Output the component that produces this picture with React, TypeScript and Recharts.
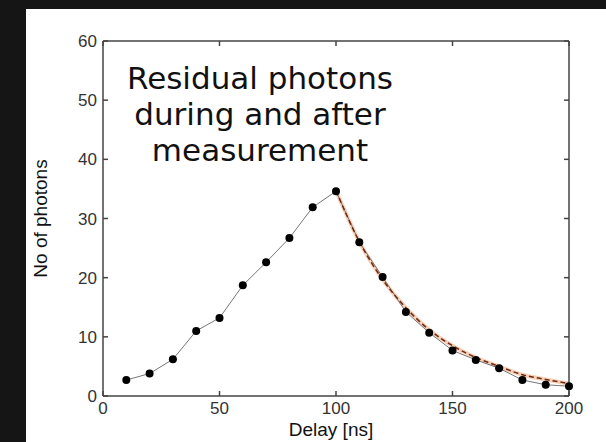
import { Line, LineChart, XAxis, YAxis } from "recharts";

const delays = [10, 20, 30, 40, 50, 60, 70, 80, 90, 100, 110, 120, 130, 140, 150, 160, 170, 180, 190, 200];
const photons = [2.7, 3.8, 6.2, 11.0, 13.2, 18.7, 22.6, 26.7, 31.9, 34.6, 26.0, 20.1, 14.2, 10.7, 7.7, 6.1, 4.7, 2.7, 1.9, 1.65];
const fitDelays = [100, 110, 120, 130, 140, 150, 160, 170, 180, 190, 200];
const fitPhotons = [34.7, 26.1, 19.7, 14.9, 11.2, 8.5, 6.5, 5.0, 3.6, 2.8, 2.1];
const xTicks = [0, 50, 100, 150, 200];
const yTicks = [0, 10, 20, 30, 40, 50, 60];
const titleLines = ["Residual photons", "during and after", "measurement"];

const data = delays.map((delay, i) => {
  const j = fitDelays.indexOf(delay);
  return { delay, photons: photons[i], fit: j >= 0 ? fitPhotons[j] : null };
});

const axisColor = "#444";
const tickFont = { fontFamily: "Liberation Sans, Arial, sans-serif", fontSize: 17, fill: "#333" };

function BottomTick(props: any) {
  const { x, y, payload } = props;
  return (
    <g>
      <line x1={x} y1={y} x2={x} y2={y - 5} stroke={axisColor} strokeWidth={1.5} />
      <text x={x} y={y + 18} textAnchor="middle" {...tickFont}>
        {payload.value}
      </text>
    </g>
  );
}

function LeftTick(props: any) {
  const { x, y, payload } = props;
  return (
    <g>
      <line x1={x} y1={y} x2={x + 5} y2={y} stroke={axisColor} strokeWidth={1.5} />
      <text x={x - 6} y={y + 6} textAnchor="end" {...tickFont}>
        {payload.value}
      </text>
    </g>
  );
}

function TopTick(props: any) {
  const { x, y } = props;
  return <line x1={x} y1={y} x2={x} y2={y + 5} stroke={axisColor} strokeWidth={1.5} />;
}

function RightTick(props: any) {
  const { x, y } = props;
  return <line x1={x} y1={y} x2={x - 5} y2={y} stroke={axisColor} strokeWidth={1.5} />;
}

export default function App() {
  return (
    <div style={{ position: "absolute", left: 0, top: 0, width: 606, height: 442, background: "#151515" }}>
      <div style={{ position: "absolute", left: 26, top: 9, width: 580, height: 433, background: "#fff" }}>
        <LineChart width={580} height={433} data={data} margin={{ top: 31, right: 36, left: 0, bottom: 0 }}>
          <XAxis
            dataKey="delay"
            type="number"
            domain={[0, 200]}
            ticks={xTicks}
            interval={0}
            height={46}
            tickSize={0}
            tickMargin={0}
            axisLine={{ stroke: axisColor, strokeWidth: 1.5 }}
            tickLine={false}
            tick={<BottomTick />}
            label={{
              content: (p: any) => (
                <text
                  x={p.viewBox.x + p.viewBox.width / 2 - 5}
                  y={p.viewBox.y + 40}
                  textAnchor="middle"
                  fontFamily="Liberation Sans, Arial, sans-serif"
                  fontSize={19}
                  fill="#111"
                >
                  Delay [ns]
                </text>
              ),
            }}
          />
          <XAxis
            xAxisId="top"
            orientation="top"
            dataKey="delay"
            type="number"
            domain={[0, 200]}
            allowDataOverflow
            ticks={xTicks}
            interval={0}
            height={1}
            tickSize={0}
            tickMargin={0}
            axisLine={{ stroke: axisColor, strokeWidth: 1.5 }}
            tickLine={false}
            tick={<TopTick />}
          />
          <YAxis
            type="number"
            domain={[0, 60]}
            ticks={yTicks}
            interval={0}
            width={77}
            tickSize={0}
            tickMargin={0}
            axisLine={{ stroke: axisColor, strokeWidth: 1.5 }}
            tickLine={false}
            tick={<LeftTick />}
            label={{
              content: (p: any) => {
                const cx = p.viewBox.x + 20.7;
                const cy = p.viewBox.y + p.viewBox.height / 2;
                return (
                  <text
                    x={cx}
                    y={cy}
                    transform={`rotate(-90 ${cx} ${cy})`}
                    textAnchor="middle"
                    fontFamily="Liberation Sans, Arial, sans-serif"
                    fontSize={19}
                    fill="#111"
                  >
                    No of photons
                  </text>
                );
              },
            }}
          />
          <YAxis
            yAxisId="right"
            orientation="right"
            type="number"
            domain={[0, 60]}
            allowDataOverflow
            ticks={yTicks}
            interval={0}
            width={1}
            tickSize={0}
            tickMargin={0}
            axisLine={{ stroke: axisColor, strokeWidth: 1.5 }}
            tickLine={false}
            tick={<RightTick />}
          />
          <Line
            xAxisId="top"
            yAxisId="right"
            dataKey="photons"
            stroke="none"
            dot={false}
            activeDot={false}
            legendType="none"
            isAnimationActive={false}
          />
          <Line
            dataKey="fit"
            type="monotone"
            stroke="#f4b183"
            strokeOpacity={0.6}
            strokeWidth={4}
            dot={false}
            isAnimationActive={false}
          />
          <Line
            dataKey="photons"
            type="linear"
            stroke="#777"
            strokeWidth={1}
            dot={{ r: 4, fill: "#000", stroke: "#000", strokeWidth: 0 }}
            isAnimationActive={false}
          />
          <Line
            dataKey="fit"
            type="monotone"
            stroke="#6b2a1a"
            strokeWidth={1.5}
            strokeDasharray="5 3"
            dot={false}
            isAnimationActive={false}
          />
        </LineChart>
        <div
          style={{
            position: "absolute",
            left: 0,
            top: 51,
            width: 468,
            textAlign: "center",
            fontFamily: "DejaVu Sans, sans-serif",
            fontSize: 31,
            lineHeight: "36px",
            color: "#111",
          }}
        >
          {titleLines.map((t) => (
            <div key={t}>{t}</div>
          ))}
        </div>
      </div>
    </div>
  );
}
